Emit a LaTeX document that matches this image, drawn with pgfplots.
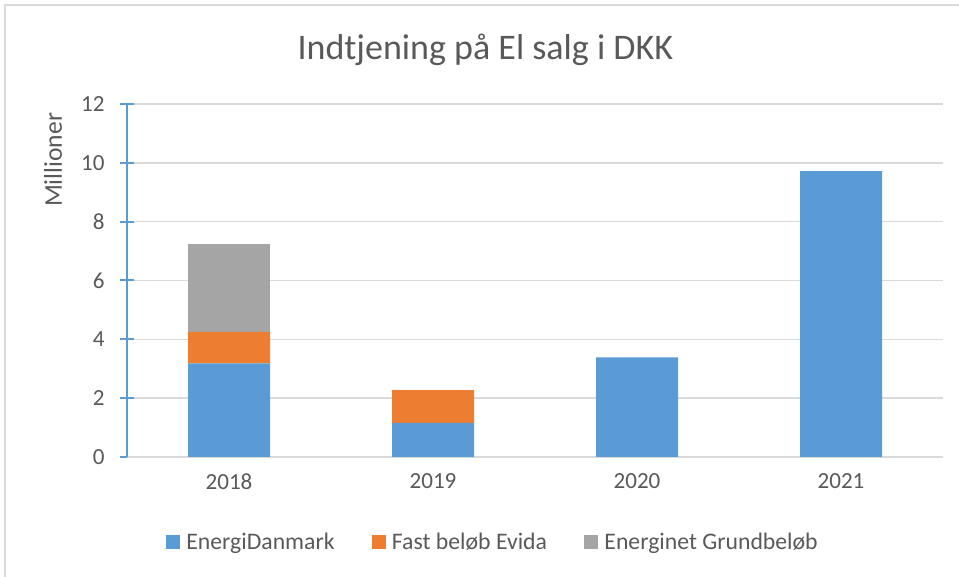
\documentclass[border=0pt]{standalone}
\usepackage{pgfplots}
\pgfplotsset{compat=1.18}
\usepackage{fontspec}
\setmainfont{Carlito}
\definecolor{cblue}{HTML}{5B9BD5}
\definecolor{corange}{HTML}{ED7D31}
\definecolor{cgray}{HTML}{A5A5A5}
\definecolor{ctext}{HTML}{595959}
\definecolor{cgrid}{HTML}{D9D9D9}
\begin{document}
\begin{tikzpicture}
\useasboundingbox (0,0) rectangle (719.25pt,432.75pt);
\draw[cgrid, line width=1.5pt] (3.75pt,0) -- (3.75pt,429pt) -- (719.25pt,429pt);
\node[anchor=base, text=ctext, font=\fontsize{27}{32}\selectfont] at (364pt,387.75pt) {Indtjening på El salg i DKK};
\node[rotate=90, text=ctext, font=\fontsize{19.2}{23}\selectfont] at (39.75pt,312.75pt) {Millioner};
\begin{axis}[
  at={(95.25pt,90pt)}, anchor=south west,
  scale only axis, width=612pt, height=264.75pt,
  ybar stacked, bar width=61.5pt,
  xmin=-0.5, xmax=3.5, ymin=0, ymax=12,
  xtick={0,1,2,3}, xticklabels={2018,2019,2020,2021},
  ytick={0,2,4,6,8,10,12},
  axis x line*=bottom, axis y line*=left,
  x axis line style={draw=cgrid, line width=1pt, -},
  y axis line style={draw=cblue, line width=1.5pt, -},
  xtick style={draw=none},
  ytick style={draw=cblue, line width=1.5pt},
  major tick length=10.5pt, ytick align=center,
  ymajorgrids, major grid style={draw=cgrid, line width=1.2pt},
  /pgf/number format/assume math mode=true,
  ticklabel style={text=ctext, font=\fontsize{17.3}{20}\selectfont},
  yticklabel style={xshift=-8pt},
  xticklabel style={yshift=-9pt},
  legend columns=3,
  legend style={at={(0.449,-0.241)}, anchor=center, draw=none, fill=none,
    text=ctext, font=\fontsize{17.8}{20}\selectfont,
    /tikz/every odd column/.append style={column sep=2.5pt},
    /tikz/every even column/.append style={column sep=26pt}},
  legend image code/.code={\fill[#1] (0pt,-5.25pt) rectangle (10.5pt,5.25pt);},
]
\addplot[fill=cblue, draw=none] coordinates {(0,3.18) (1,1.16) (2,3.39) (3,9.72)};
\addplot[fill=corange, draw=none] coordinates {(0,1.07) (1,1.11) (2,0) (3,0)};
\addplot[fill=cgray, draw=none] coordinates {(0,2.99) (1,0) (2,0) (3,0)};
\legend{EnergiDanmark, Fast beløb Evida, Energinet Grundbeløb}
\end{axis}
\end{tikzpicture}
\end{document}
